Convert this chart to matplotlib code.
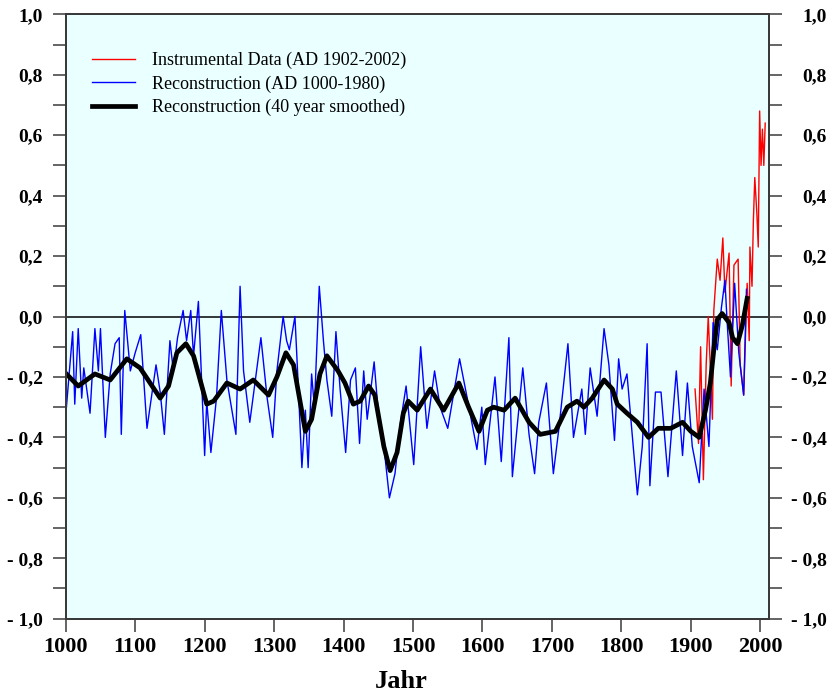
import numpy as np
import matplotlib
matplotlib.use("Agg")
import matplotlib.pyplot as plt

# values
recon_years = [1001, 1010, 1013, 1018, 1023, 1026, 1035, 1042, 1047, 1050, 1057, 1064, 1071, 1077,
               1080, 1085, 1093, 1100, 1108, 1117, 1130, 1136, 1142, 1150, 1155, 1161, 1169, 1174,
               1180, 1184, 1191, 1200, 1203, 1209, 1217, 1224, 1232, 1245, 1251, 1256, 1265, 1281,
               1290, 1298, 1304, 1313, 1318, 1322, 1330, 1335, 1340, 1345, 1349, 1354, 1358, 1365,
               1371, 1376, 1383, 1389, 1395, 1403, 1410, 1417, 1423, 1429, 1434, 1444, 1450, 1458,
               1466, 1474, 1482, 1490, 1501, 1511, 1520, 1531, 1539, 1550, 1567, 1578, 1592, 1599,
               1604, 1618, 1627, 1638, 1643, 1658, 1667, 1675, 1681, 1692, 1702, 1710, 1723, 1731,
               1743, 1748, 1755, 1765, 1775, 1782, 1790, 1796, 1801, 1808, 1823, 1830, 1837, 1841,
               1849, 1857, 1867, 1879, 1888, 1895, 1902, 1912, 1919, 1926, 1932, 1938, 1944, 1949,
               1952, 1957, 1963, 1969, 1976, 1980]
recon_vals = [-0.30, -0.05, -0.29, -0.04, -0.27, -0.17, -0.32, -0.04, -0.18, -0.04, -0.40, -0.19, -0.09, -0.07,
              -0.39, 0.02, -0.18, -0.12, -0.06, -0.37, -0.16, -0.25, -0.39, -0.08, -0.18, -0.07, 0.02, -0.08,
              0.02, -0.13, 0.05, -0.46, -0.28, -0.45, -0.27, 0.02, -0.21, -0.39, 0.10, -0.18, -0.35, -0.07,
              -0.27, -0.40, -0.18, 0.00, -0.08, -0.11, 0.00, -0.24, -0.50, -0.31, -0.50, -0.19, -0.30, 0.10,
              -0.08, -0.21, -0.33, -0.05, -0.24, -0.45, -0.21, -0.17, -0.42, -0.18, -0.34, -0.15, -0.32, -0.43,
              -0.60, -0.52, -0.35, -0.23, -0.49, -0.10, -0.37, -0.18, -0.30, -0.37, -0.14, -0.27, -0.44, -0.30,
              -0.49, -0.20, -0.48, -0.07, -0.53, -0.17, -0.39, -0.52, -0.35, -0.22, -0.52, -0.37, -0.09, -0.40,
              -0.24, -0.39, -0.17, -0.33, -0.04, -0.16, -0.41, -0.14, -0.24, -0.19, -0.59, -0.43, -0.09, -0.56,
              -0.25, -0.25, -0.53, -0.18, -0.46, -0.22, -0.43, -0.55, -0.24, -0.43, -0.02, -0.11, 0.03, 0.12,
              -0.01, -0.20, 0.11, -0.12, -0.26, 0.09]

instr_years = [1906, 1911, 1914, 1918, 1922, 1925, 1931, 1933, 1938, 1942, 1946, 1949, 1955, 1958,
               1962, 1968, 1971, 1976, 1981, 1984, 1985, 1988, 1990, 1992, 1995, 1997, 1999, 2001,
               2003, 2005, 2007]
instr_vals = [-0.24, -0.42, -0.10, -0.54, -0.16, 0.00, -0.34, 0.02, 0.19, 0.12, 0.26, 0.08, 0.21, -0.23,
              0.17, 0.19, -0.16, -0.26, 0.11, -0.08, 0.23, 0.10, 0.32, 0.46, 0.34, 0.23, 0.68, 0.50,
              0.62, 0.50, 0.64]

smooth_years = [1001, 1018, 1042, 1064, 1088, 1107, 1136, 1148, 1160, 1173, 1184, 1203, 1213, 1232,
                1251, 1270, 1292, 1304, 1317, 1328, 1345, 1354, 1366, 1376, 1392, 1402, 1414, 1424,
                1436, 1445, 1458, 1467, 1477, 1486, 1493, 1506, 1525, 1544, 1566, 1580, 1595, 1607,
                1616, 1631, 1647, 1667, 1683, 1705, 1722, 1736, 1746, 1758, 1775, 1787, 1794, 1808,
                1823, 1839, 1853, 1871, 1888, 1900, 1912, 1921, 1928, 1933, 1938, 1945, 1955, 1960,
                1967, 1974, 1981]
smooth_vals = [-0.19, -0.23, -0.19, -0.21, -0.14, -0.17, -0.27, -0.23, -0.12, -0.09, -0.13, -0.29, -0.28, -0.22,
               -0.24, -0.21, -0.26, -0.20, -0.12, -0.16, -0.38, -0.34, -0.19, -0.13, -0.18, -0.22, -0.29, -0.28,
               -0.23, -0.26, -0.43, -0.51, -0.45, -0.32, -0.28, -0.31, -0.24, -0.31, -0.22, -0.30, -0.38, -0.31,
               -0.30, -0.31, -0.27, -0.35, -0.39, -0.38, -0.30, -0.28, -0.30, -0.27, -0.21, -0.24, -0.29, -0.32,
               -0.35, -0.40, -0.37, -0.37, -0.35, -0.38, -0.40, -0.31, -0.22, -0.11, -0.01, 0.01, -0.02, -0.07,
               -0.09, -0.03, 0.06]

x_ticks = list(range(1000, 2001, 100))
y_major = [1.0, 0.8, 0.6, 0.4, 0.2, 0.0, -0.2, -0.4, -0.6, -0.8, -1.0]
y_labels = ["1,0", "0,8", "0,6", "0,4", "0,2", "0,0", "- 0,2", "- 0,4", "- 0,6", "- 0,8", "- 1,0"]
y_minor = [0.9, 0.7, 0.5, 0.3, 0.1, -0.1, -0.3, -0.5, -0.7, -0.9]

serif = "Liberation Serif"
edge = "#3a3a3a"

fig = plt.figure(figsize=(8.33, 6.92), dpi=100)
ax = fig.add_axes([0.0789, 0.1059, 0.8443, 0.8734])
ax.set_facecolor("#eaffff")

ax.axhline(0, color="black", lw=1.1, zorder=1)
ax.plot(instr_years, instr_vals, color="#ff0000", lw=1.0, label="Instrumental Data (AD 1902-2002)", zorder=2)
ax.plot(recon_years, recon_vals, color="#0000ff", lw=1.0, label="Reconstruction (AD 1000-1980)", zorder=3)
ax.plot(smooth_years, smooth_vals, color="black", lw=3.4, label="Reconstruction (40 year smoothed)", zorder=4)

ax.set_xlim(1000, 2012.5)
ax.set_ylim(-1, 1)

ax.set_xticks(x_ticks)
ax.set_xticklabels([str(x) for x in x_ticks], fontfamily=serif, fontweight="bold", fontsize=16)
ax.set_yticks(y_major)
ax.set_yticklabels(y_labels, fontfamily=serif, fontweight="bold", fontsize=14)
ax.set_yticks(y_minor, minor=True)
ax.tick_params(axis="x", length=9.4, width=1.1, color=edge, pad=4)
ax.tick_params(axis="y", which="both", length=9.4, width=1.1, color=edge, pad=7)

# right-hand axis with labels aligned to the right edge
ax2 = ax.twinx()
ax2.set_ylim(-1, 1)
ax2.set_yticks(y_major)
ax2.set_yticklabels(y_labels, fontfamily=serif, fontweight="bold", fontsize=14, ha="right")
ax2.set_yticks(y_minor, minor=True)
ax2.tick_params(axis="y", which="both", length=9.4, width=1.1, color=edge, pad=32)

for a in (ax, ax2):
    for s in a.spines.values():
        s.set_color(edge)
        s.set_linewidth(1.4)

ax.set_xlabel("Jahr", fontfamily=serif, fontweight="bold", fontsize=19)
ax.xaxis.set_label_coords(0.4768, -0.085)

ax.legend(loc="upper left", bbox_to_anchor=(0.0374, 0.9376), frameon=False,
          prop={"family": serif, "size": 13}, handlelength=2.4, handletextpad=0.9,
          labelspacing=0.34, borderpad=0, borderaxespad=0)

fig.savefig("out.png", dpi=100)
